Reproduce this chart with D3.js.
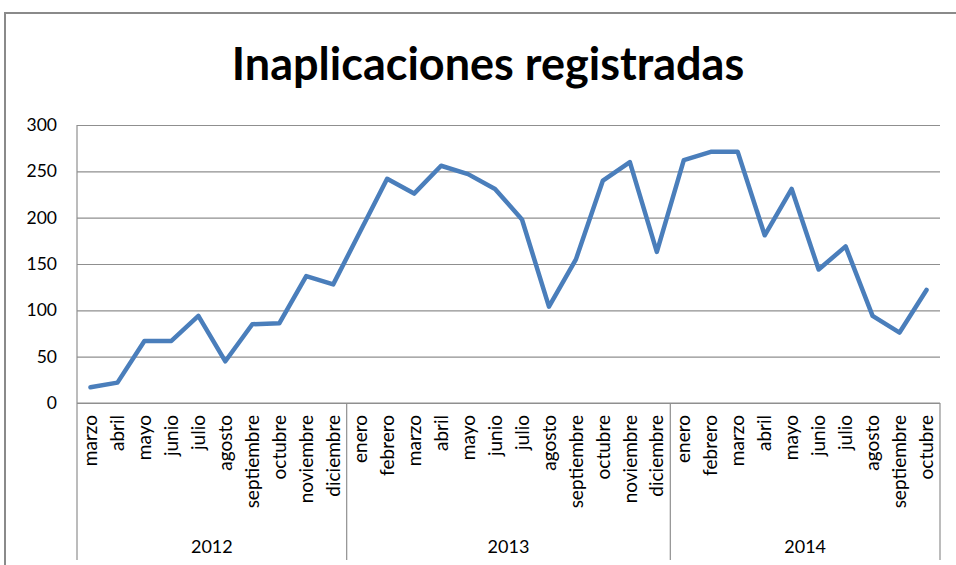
<!DOCTYPE html>
<html>
<head>
<meta charset="utf-8">
<script src="https://cdn.jsdelivr.net/npm/d3@7"></script>
<style>
    body { margin: 0; background: #fff; }
    svg { display: block; font-family: Lato, "Open Sans", sans-serif; }
</style>
</head>
<body>
<svg id="chart" width="956" height="565"></svg>
<script>
// Monthly counts, grouped per year.
const YEARS = ["2012", "2013", "2014"];
const MONTHS_2012 = ["marzo", "abril", "mayo", "junio", "julio", "agosto",
    "septiembre", "octubre", "noviembre", "diciembre"];
const MONTHS_2013 = ["enero", "febrero", "marzo", "abril", "mayo", "junio", "julio",
    "agosto", "septiembre", "octubre", "noviembre", "diciembre"];
const MONTHS_2014 = ["enero", "febrero", "marzo", "abril", "mayo", "junio", "julio",
    "agosto", "septiembre", "octubre"];
const VALUES_2012 = [17, 22, 67, 67, 94, 45, 85, 86, 137, 128];
const VALUES_2013 = [185, 242, 226, 256, 247, 231, 198, 104, 155, 240, 260, 163];
const VALUES_2014 = [262, 271, 271, 181, 231, 144, 169, 94, 76, 122];
const Y_TICKS = [0, 50, 100, 150, 200, 250, 300];

const TITLE = "Inaplicaciones registradas";

// Plot frame in pixels (Excel's plot area inside the 956x565 chart).
const PLOT = { left: 77, right: 940, top: 125, bottom: 403 };
const AXIS_BOTTOM = 560;
const GRID = "#8f8f8f";
const LINE_COLOR = "#4a7ebb";

const groups = [
    { year: YEARS[0], months: MONTHS_2012, values: VALUES_2012 },
    { year: YEARS[1], months: MONTHS_2013, values: VALUES_2013 },
    { year: YEARS[2], months: MONTHS_2014, values: VALUES_2014 },
];

// Flatten into one point per month, remembering which year it belongs to.
const points = [];
groups.forEach((g, gi) => {
    g.months.forEach((m, mi) => {
        points.push({ i: points.length, month: m, value: g.values[mi], group: gi });
    });
});

const svg = d3.select("#chart");

// Outer chart border (only the top and left edges show in the frame).
svg.append("path")
    .attr("d", "M5,565 V13 H956")
    .attr("fill", "none")
    .attr("stroke", "#8a8a8a")
    .attr("stroke-width", 2);

svg.append("text")
    .attr("x", 488)
    .attr("y", 80)
    .attr("text-anchor", "middle")
    .attr("font-size", 45)
    .attr("font-weight", 700)
    .attr("fill", "#000")
    .text(TITLE);

const x = d3.scaleBand()
    .domain(points.map((d) => d.i))
    .range([PLOT.left, PLOT.right]);

const y = d3.scaleLinear()
    .domain([0, 300])
    .range([PLOT.bottom, PLOT.top]);

// Horizontal gridlines + value labels.
const yAxis = svg.append("g")
    .attr("transform", `translate(${PLOT.left},0)`)
    .call(d3.axisLeft(y)
        .tickValues(Y_TICKS)
        .tickSize(-(PLOT.right - PLOT.left))
        .tickPadding(20));
yAxis.select(".domain").remove();
yAxis.selectAll(".tick line")
    .attr("stroke", GRID)
    .attr("stroke-width", 1.2);
yAxis.selectAll(".tick text")
    .attr("font-size", 17.5)
    .attr("font-family", "Lato, sans-serif")
    .attr("fill", "#000");

// Left axis line.
svg.append("line")
    .attr("x1", PLOT.left).attr("x2", PLOT.left)
    .attr("y1", PLOT.top).attr("y2", PLOT.bottom)
    .attr("stroke", GRID)
    .attr("stroke-width", 1.2);

// Month labels, rotated, through a bottom axis with no tick marks.
const xAxis = svg.append("g")
    .attr("transform", `translate(0,${PLOT.bottom})`)
    .call(d3.axisBottom(x)
        .tickSize(0)
        .tickFormat((i) => points[i].month));
xAxis.select(".domain").remove();
xAxis.selectAll(".tick text")
    .attr("font-size", 19)
    .attr("font-family", "Lato, sans-serif")
    .attr("fill", "#000")
    .attr("text-anchor", "end")
    .attr("transform", "rotate(-90)")
    .attr("x", -12)
    .attr("y", 0)
    .attr("dy", "0.35em");

svg.append("line")
    .attr("x1", PLOT.left).attr("x2", PLOT.right)
    .attr("y1", PLOT.bottom).attr("y2", PLOT.bottom)
    .attr("stroke", GRID)
    .attr("stroke-width", 1.2);

// Year groups: separators between blocks and a centred year label.
const yearSpans = groups.map((g, gi) => {
    const idx = points.filter((p) => p.group === gi).map((p) => p.i);
    return {
        year: g.year,
        x0: x(idx[0]),
        x1: x(idx[idx.length - 1]) + x.bandwidth(),
    };
});

const edges = [yearSpans[0].x0, ...yearSpans.map((s) => s.x1)];
svg.append("g")
    .selectAll("line")
    .data(edges)
    .join("line")
    .attr("x1", (d) => d).attr("x2", (d) => d)
    .attr("y1", PLOT.bottom).attr("y2", AXIS_BOTTOM)
    .attr("stroke", GRID)
    .attr("stroke-width", 1.2);

svg.append("g")
    .selectAll("text")
    .data(yearSpans)
    .join("text")
    .attr("x", (d) => (d.x0 + d.x1) / 2)
    .attr("y", 553)
    .attr("text-anchor", "middle")
    .attr("font-size", 18)
    .attr("fill", "#000")
    .text((d) => d.year);

// The series line.
const line = d3.line()
    .x((d) => x(d.i) + x.bandwidth() / 2)
    .y((d) => y(d.value));

svg.append("path")
    .datum(points)
    .attr("d", line)
    .attr("fill", "none")
    .attr("stroke", LINE_COLOR)
    .attr("stroke-width", 4.5)
    .attr("stroke-linejoin", "round")
    .attr("stroke-linecap", "round");
</script>
</body>
</html>
